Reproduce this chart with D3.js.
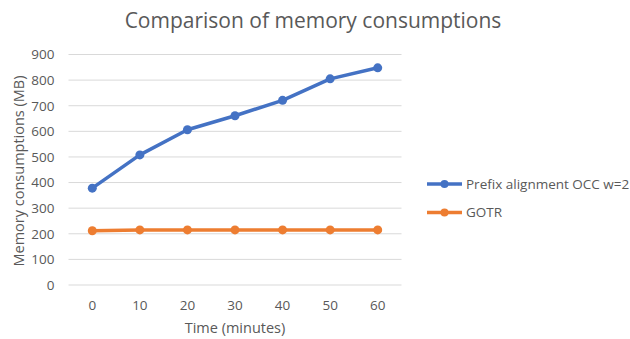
<!DOCTYPE html>
<html>
<head>
<meta charset="utf-8">
<script src="https://cdn.jsdelivr.net/npm/d3@7"></script>
<style>
  body { margin: 0; background: #fff; }
  text { font-family: "Open Sans", "Noto Sans", sans-serif; fill: #595959; }
</style>
</head>
<body>
<svg width="630" height="339"></svg>
<script>
const width = 630, height = 339;
const svg = d3.select("svg");

// chart data
const times = ["0", "10", "20", "30", "40", "50", "60"];
const prefixOcc = [378, 508, 606, 661, 721, 805, 848];
const gotr = [212, 215, 215, 215, 215, 215, 215];
const yTicks = [0, 100, 200, 300, 400, 500, 600, 700, 800, 900];

const series = [
    { name: "Prefix alignment OCC w=2", values: prefixOcc, color: "#4472C4" },
    { name: "GOTR", values: gotr, color: "#ED7D31" }
];

const margin = { left: 68.5, right: 401.5, top: 54.5, bottom: 285 };

const x = d3.scaleBand().domain(times).range([margin.left, margin.right]);
const y = d3.scaleLinear().domain([0, 900]).range([margin.bottom, margin.top]);

// gridlines
svg.append("g")
    .selectAll("line")
    .data(yTicks)
    .join("line")
    .attr("x1", margin.left)
    .attr("x2", margin.right)
    .attr("y1", d => y(d))
    .attr("y2", d => y(d))
    .attr("stroke", "#d9d9d9")
    .attr("stroke-width", 1);

// y axis labels
const yAxis = svg.append("g")
    .attr("transform", `translate(${margin.left - 14},0)`)
    .call(d3.axisLeft(y).tickValues(yTicks).tickSize(0).tickPadding(0));
yAxis.select(".domain").remove();
yAxis.selectAll("text").style("font-size", "13.5px").attr("fill", "#595959");

// x axis labels
const xAxis = svg.append("g")
    .attr("transform", `translate(0,${margin.bottom + 15})`)
    .call(d3.axisBottom(x).tickSize(0).tickPadding(0));
xAxis.select(".domain").remove();
xAxis.selectAll("text").style("font-size", "13.5px").attr("fill", "#595959");

// title
svg.append("text")
    .attr("x", 313)
    .attr("y", 28)
    .attr("text-anchor", "middle")
    .style("font-size", "21px")
    .text("Comparison of memory consumptions");

// axis titles
svg.append("text")
    .attr("x", 235)
    .attr("y", 333)
    .attr("text-anchor", "middle")
    .style("font-size", "14.5px")
    .text("Time (minutes)");

svg.append("text")
    .attr("transform", "translate(24,171) rotate(-90)")
    .attr("text-anchor", "middle")
    .style("font-size", "14.5px")
    .text("Memory consumptions (MB)");

const line = d3.line()
    .x((d, i) => x(times[i]) + x.bandwidth() / 2)
    .y(d => y(d));

series.forEach(s => {
    const g = svg.append("g");
    g.append("path")
        .attr("d", line(s.values))
        .attr("fill", "none")
        .attr("stroke", s.color)
        .attr("stroke-width", 3.5)
        .attr("stroke-linejoin", "round");
    g.selectAll("circle")
        .data(s.values)
        .join("circle")
        .attr("cx", (d, i) => x(times[i]) + x.bandwidth() / 2)
        .attr("cy", d => y(d))
        .attr("r", 4.5)
        .attr("fill", s.color);
});

// legend
const legend = svg.append("g")
    .selectAll("g")
    .data(series)
    .join("g")
    .attr("transform", (d, i) => `translate(427,${184 + i * 28.5})`);
legend.append("line")
    .attr("x1", 0).attr("x2", 35)
    .attr("stroke", d => d.color)
    .attr("stroke-width", 3.5);
legend.append("circle")
    .attr("cx", 17.5).attr("r", 4)
    .attr("fill", d => d.color);
legend.append("text")
    .attr("x", 39)
    .attr("dy", "0.35em")
    .style("font-size", "13.5px")
    .text(d => d.name);
</script>
</body>
</html>
